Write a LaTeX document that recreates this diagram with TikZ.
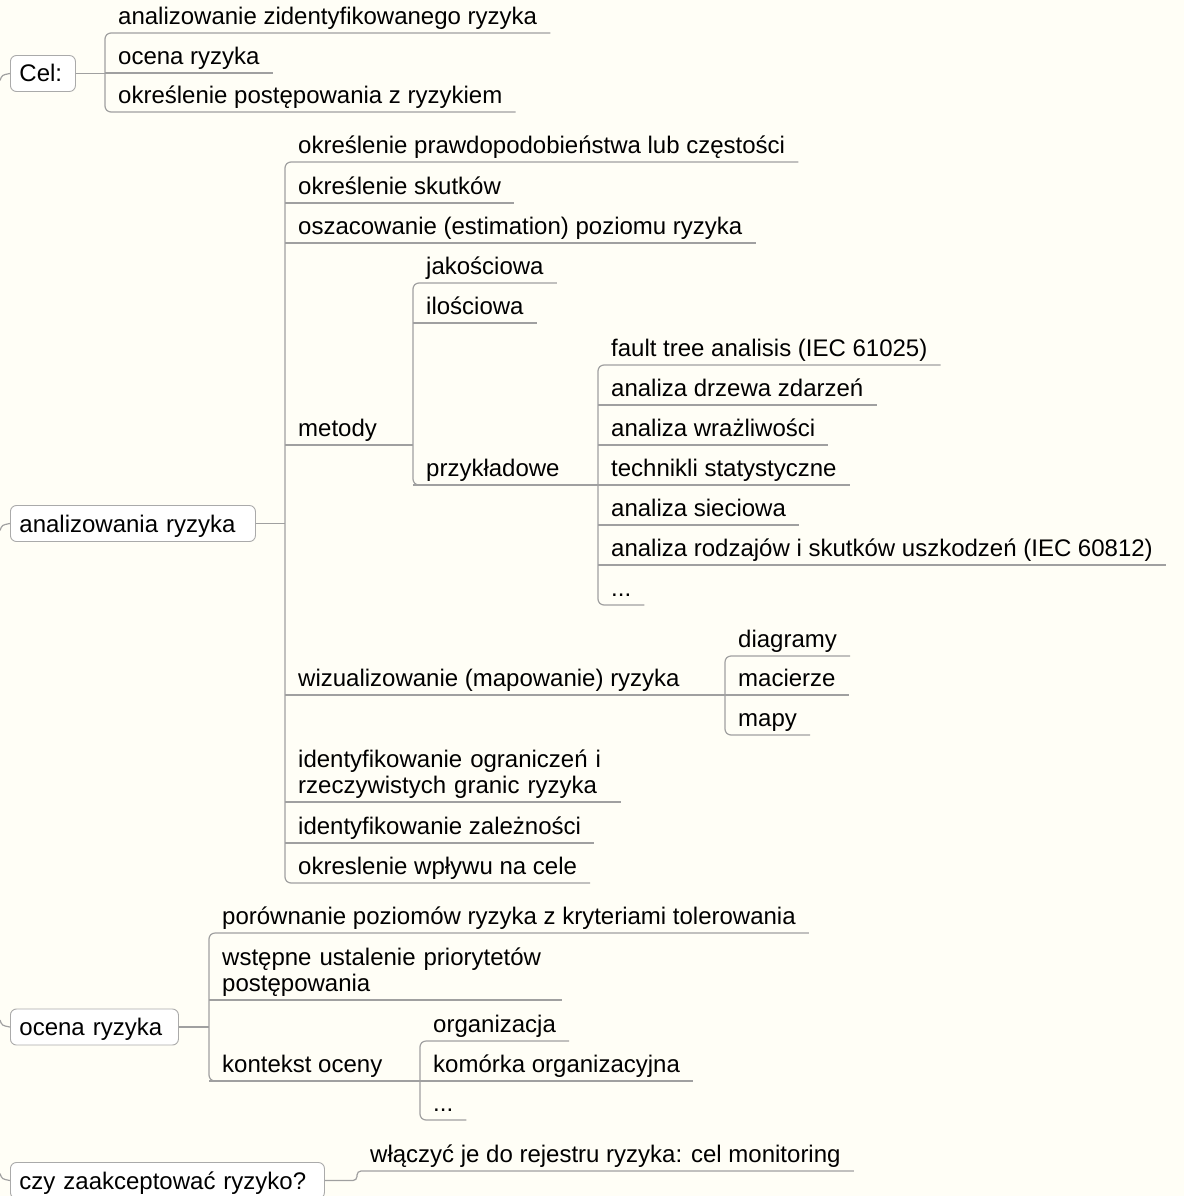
\documentclass[tikz,border=0pt]{standalone}
\usepackage{fontspec}
\setmainfont{Liberation Sans}
\usetikzlibrary{calc}
\definecolor{paper}{RGB}{255,254,246}
\definecolor{wiregray}{RGB}{160,160,160}
\definecolor{boxgray}{RGB}{170,170,170}
\newcommand{\mmfont}{\fontsize{24}{26.5}\selectfont}

\begin{document}
\begin{tikzpicture}[x=1pt,y=-1pt,
  leaf/.style={anchor=south west, inner xsep=13pt, inner ysep=3pt,
    text depth=5pt, font=\mmfont, align=left},
  twoline/.style={text depth=31.5pt},
  topic/.style={anchor=west, draw=boxgray, line width=0.9pt, fill=white,
    rounded corners=6pt, inner xsep=9pt, inner ysep=0pt, minimum height=36pt,
    text height=17pt, text depth=0pt, font=\mmfont, align=left},
  wire/.style={draw=wiregray, line width=1.2pt, rounded corners=6pt},
  stub/.style={draw=wiregray, line width=1.2pt}]

\useasboundingbox (0,0) rectangle (1184,1196);
\fill[paper] (0,0) rectangle (1184,1196);

% ---------- main topics ----------
\node[topic, text width=47pt]  (cel) at (10,73.5)   {Cel:};
\node[topic, text width=227pt] (ana) at (10,523.5)  {analizowania ryzyka};
\node[topic, text width=150pt] (oce) at (10,1027)   {ocena ryzyka};
\node[topic, text width=296pt] (czy) at (10,1180.5) {czy zaakceptować ryzyko?};

% stubs coming in from the central topic on the left
\coordinate (celIn) at (0,80.5);
\coordinate (anaIn) at (0,530.5);
\coordinate (oceIn) at (0,1020);
\coordinate (czyIn) at (0,1173.5);
\draw[stub] (celIn) .. controls (2,75) .. (cel.west);
\draw[stub] (anaIn) .. controls (2,525) .. (ana.west);
\draw[stub] (oceIn) .. controls (2,1025.5) .. (oce.west);
\draw[stub] (czyIn) .. controls (2,1179) .. (czy.west);

% ---------- Cel: ----------
\node[leaf] (a1) at (105,33)  {analizowanie zidentyfikowanego ryzyka};
\node[leaf] (a2) at (105,73)  {ocena ryzyka};
\node[leaf] (a3) at (105,112) {określenie postępowania z ryzykiem};
\coordinate (celS) at (105,73.5);
\draw[wire] (cel.east) -- (celS);
\draw[wire] (a1.south east) -- (a1.south west) -- (a3.south west) -- (a3.south east);
\draw[wire] (a2.south west) -- (a2.south east);

% ---------- analizowania ryzyka ----------
\node[leaf] (b1) at (285,162) {określenie prawdopodobieństwa lub częstości};
\node[leaf] (b2) at (285,203) {określenie skutków};
\node[leaf] (b3) at (285,243) {oszacowanie (estimation) poziomu ryzyka};
\node[leaf] (b4) at (285,445) {metody};
\node[leaf] (b5) at (285,695) {wizualizowanie (mapowanie) ryzyka};
\node[leaf, twoline, text width=310pt] (b6) at (285,802) {identyfikowanie ograniczeń i\\rzeczywistych granic ryzyka};
\node[leaf] (b7) at (285,843) {identyfikowanie zależności};
\node[leaf] (b8) at (285,883) {okreslenie wpływu na cele};
\coordinate (anaS) at (285,523.5);
\draw[wire] (ana.east) -- (anaS);
\draw[wire] (b1.south east) -- (b1.south west) -- (b8.south west) -- (b8.south east);
\foreach \n in {b2,b3,b6,b7}
  \draw[wire] (\n.south west) -- (\n.south east);

% metody
\coordinate (metS) at (413,445);
\draw[wire] (b4.south west) -- (metS);
\node[leaf] (c1) at (413,283) {jakościowa};
\node[leaf] (c2) at (413,323) {ilościowa};
\node[leaf] (c3) at (413,485) {przykładowe};
\draw[wire] (c1.south east) -- (c1.south west) -- (c3.south west) -- (c3.south east);
\draw[wire] (c2.south west) -- (c2.south east);

% przykładowe
\coordinate (przS) at (598,485);
\draw[wire] (c3.south west) -- (przS);
\node[leaf] (d1) at (598,365) {fault tree analisis (IEC 61025)};
\node[leaf] (d2) at (598,405) {analiza drzewa zdarzeń};
\node[leaf] (d3) at (598,445) {analiza wrażliwości};
\node[leaf] (d4) at (598,485) {technikli statystyczne};
\node[leaf] (d5) at (598,525) {analiza sieciowa};
\node[leaf] (d6) at (598,565) {analiza rodzajów i skutków uszkodzeń (IEC 60812)};
\node[leaf] (d7) at (598,605) {...};
\draw[wire] (d1.south east) -- (d1.south west) -- (d7.south west) -- (d7.south east);
\foreach \n in {d2,d3,d4,d5,d6}
  \draw[wire] (\n.south west) -- (\n.south east);

% wizualizowanie
\coordinate (wizS) at (725,695);
\draw[wire] (b5.south west) -- (wizS);
\node[leaf] (e1) at (725,656) {diagramy};
\node[leaf] (e2) at (725,695) {macierze};
\node[leaf] (e3) at (725,735) {mapy};
\draw[wire] (e1.south east) -- (e1.south west) -- (e3.south west) -- (e3.south east);
\draw[wire] (e2.south west) -- (e2.south east);

% ---------- ocena ryzyka ----------
\node[leaf] (f1) at (209,933) {porównanie poziomów ryzyka z kryteriami tolerowania};
\node[leaf, twoline, text width=327pt] (f2) at (209,1000) {wstępne ustalenie priorytetów\\postępowania};
\node[leaf] (f3) at (209,1081) {kontekst oceny};
\coordinate (oceS) at (209,1027);
\draw[wire] (oce.east) -- (oceS);
\draw[wire] (f1.south east) -- (f1.south west) -- (f3.south west) -- (f3.south east);
\draw[wire] (f2.south west) -- (f2.south east);

% kontekst oceny
\coordinate (konS) at (420,1081);
\draw[wire] (f3.south west) -- (konS);
\node[leaf] (g1) at (420,1041) {organizacja};
\node[leaf] (g2) at (420,1081) {komórka organizacyjna};
\node[leaf] (g3) at (420,1120) {...};
\draw[wire] (g1.south east) -- (g1.south west) -- (g3.south west) -- (g3.south east);
\draw[wire] (g2.south west) -- (g2.south east);

% ---------- czy zaakceptować ryzyko? ----------
\node[leaf] (h1) at (357,1171) {włączyć je do rejestru ryzyka: cel monitoring};
\coordinate (czyS) at (357,1180.5);
\draw[wire, rounded corners=4pt] (czy.east) -- (czyS) -- (h1.south west) -- (h1.south east);

\end{tikzpicture}
\end{document}
